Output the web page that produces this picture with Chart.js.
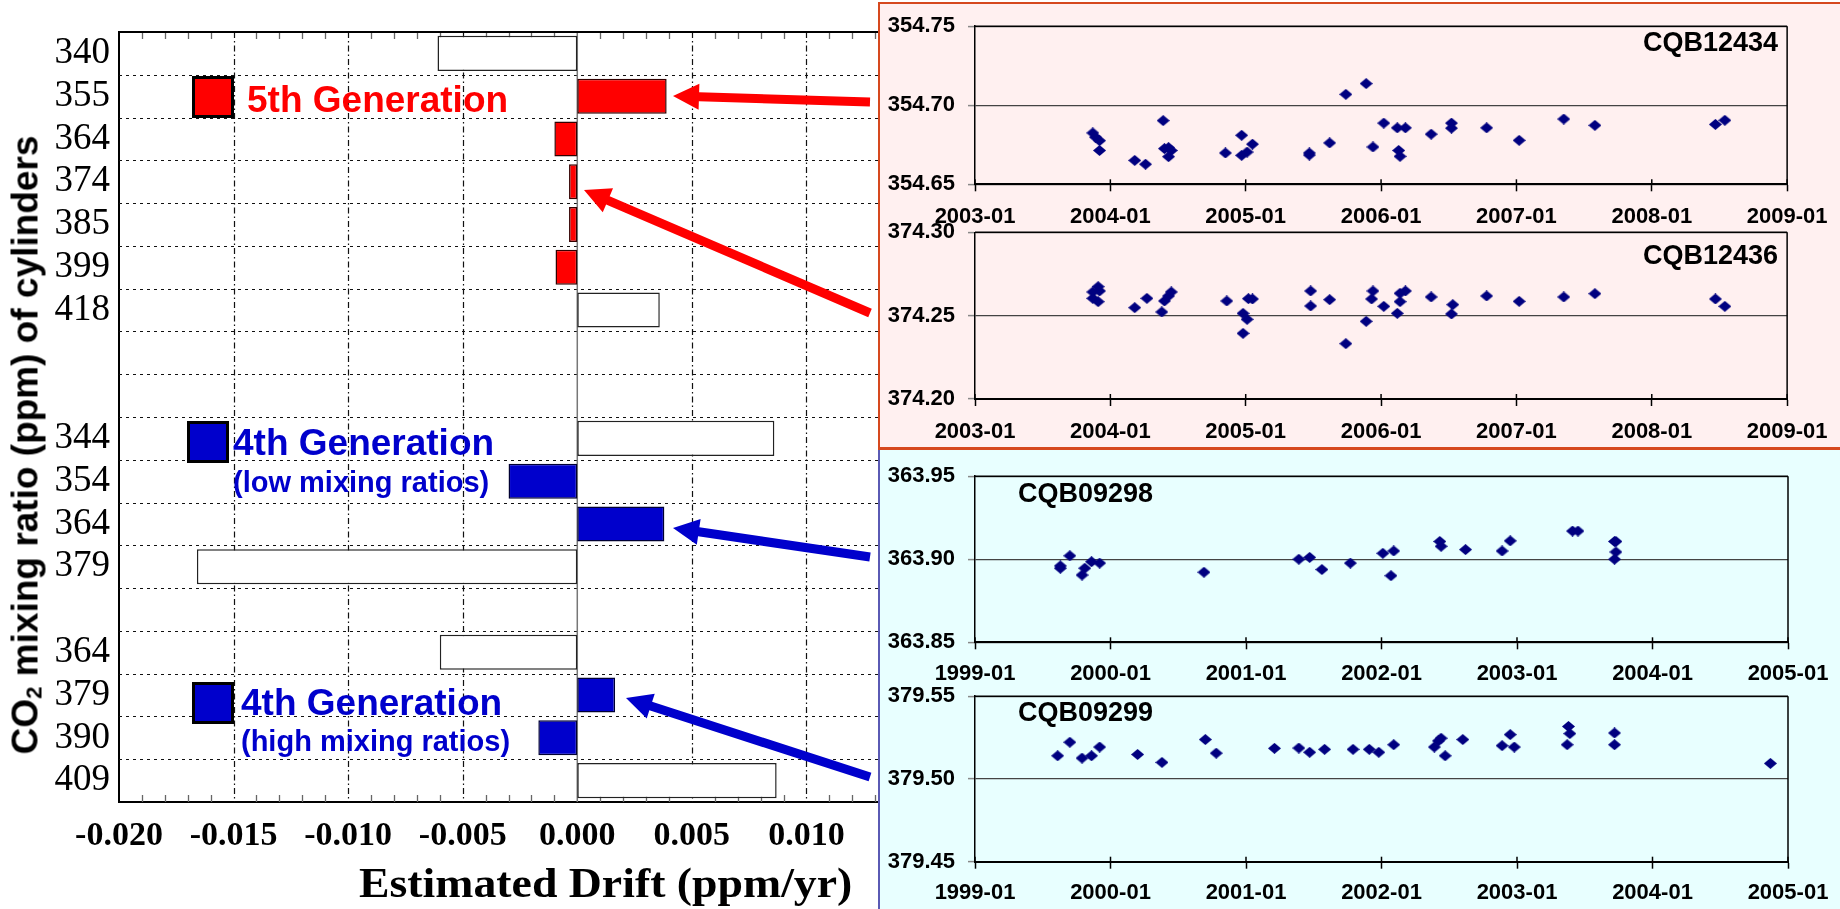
<!DOCTYPE html>
<html>
<head>
<meta charset="utf-8">
<script src="https://cdn.jsdelivr.net/npm/chart.js@4.4.1/dist/chart.umd.min.js"></script>
<style>
  html, body { margin: 0; padding: 0; background: #fff; }
  body { width: 1840px; height: 909px; position: relative; overflow: hidden; font-family: "Liberation Sans", Arial, sans-serif; }
  canvas { position: absolute; }
  .panel { position: absolute; box-sizing: border-box; }
  #panelTop { left: 878px; top: 2px; width: 980px; height: 448px; background: #fff0f0; border: 2px solid #d6481e; border-bottom-width: 3px; }
  #panelBottom { left: 878px; top: 450px; width: 980px; height: 470px; background: #e8ffff; border-left: 2px solid #5a5ab4; }
  .lbl { position: absolute; white-space: nowrap; font-weight: bold; line-height: 1; }
  .swatch { position: absolute; box-sizing: border-box; width: 42px; height: 42px; border: 3px solid #000; }
  .tag { position: absolute; white-space: nowrap; font-weight: bold; line-height: 1; font-size: 27px; color: #000; }
  #yTitle { position: absolute; left: 25px; top: 445px; white-space: nowrap; font-weight: bold; font-size: 37px; line-height: 1; transform: translate(-50%, -50%) rotate(-90deg); }
  #yTitle sub { font-size: 0.6em; vertical-align: -0.2em; line-height: 0; }
  #xTitle { position: absolute; left: 359px; top: 862px; white-space: nowrap; font-family: "Liberation Serif", "Times New Roman", serif; font-weight: bold; font-size: 42px; line-height: 1; transform: scaleX(1.09); transform-origin: left top; }
  svg { position: absolute; left: 0; top: 0; }
</style>
</head>
<body>
<canvas id="driftChart" width="1000" height="909" style="left:0;top:0"></canvas>
<div class="panel" id="panelTop"></div>
<div class="panel" id="panelBottom"></div>
<canvas id="chartCQB12434" width="960" height="240" style="left:880px;top:0"></canvas>
<canvas id="chartCQB12436" width="960" height="250" style="left:880px;top:200px"></canvas>
<canvas id="chartCQB09298" width="960" height="240" style="left:880px;top:450px"></canvas>
<canvas id="chartCQB09299" width="960" height="239" style="left:880px;top:670px"></canvas>

<div class="swatch" style="left:192px;top:76px;background:#ff0000"></div>
<div class="lbl" style="left:247px;top:81px;font-size:37px;color:#ff0000">5th Generation</div>
<div class="swatch" style="left:187px;top:421px;background:#0000cc"></div>
<div class="lbl" style="left:233px;top:424px;font-size:37px;color:#0000cc">4th Generation</div>
<div class="lbl" style="left:233px;top:468px;font-size:29px;color:#0000cc">(low mixing ratios)</div>
<div class="swatch" style="left:192px;top:682px;background:#0000cc"></div>
<div class="lbl" style="left:241px;top:684px;font-size:37px;color:#0000cc">4th Generation</div>
<div class="lbl" style="left:241px;top:727px;font-size:29px;color:#0000cc">(high mixing ratios)</div>

<div id="yTitle">CO<sub>2</sub> mixing ratio (ppm) of cylinders</div>
<div id="xTitle">Estimated Drift (ppm/yr)</div>

<div class="tag" style="right:62px;top:29px">CQB12434</div>
<div class="tag" style="right:62px;top:242px">CQB12436</div>
<div class="tag" style="left:1018px;top:480px">CQB09298</div>
<div class="tag" style="left:1018px;top:699px">CQB09299</div>

<svg id="arrows" width="1840" height="909"></svg>

<script>
// ---- left panel: estimated drift per cylinder ----
const cylinderLabels = ['340', '355', '364', '374', '385', '399', '418', '', '', '344', '354', '364', '379', '', '364', '379', '390', '409'];
const estimatedDrift = [-0.0061, 0.0039, -0.0010, -0.00036, -0.00036, -0.00095, 0.0036, null, null, 0.0086, -0.0030, 0.0038, -0.0166, null, -0.0060, 0.00165, -0.0017, 0.0087];
const cylinderGeneration = ['', '5th', '5th', '5th', '5th', '5th', '', '', '', '', '4th', '4th', '', '', '', '4th', '4th', ''];
const driftTicks = [-0.020, -0.015, -0.010, -0.005, 0.000, 0.005, 0.010, 0.015];

// ---- right panels: repeated measurements ----
const yearTicks0309 = [2003, 2004, 2005, 2006, 2007, 2008, 2009];
const yearTicks9905 = [1999, 2000, 2001, 2002, 2003, 2004, 2005];

const cqb12434Ticks = [354.65, 354.70, 354.75];
const cqb12434Dates = [2003.87, 2003.89, 2003.92, 2003.92, 2004.18, 2004.26, 2004.39, 2004.40, 2004.43, 2004.45, 2004.43, 2004.85, 2004.97, 2004.97, 2005.01, 2005.05, 2005.47, 2005.47, 2005.62, 2005.74, 2005.89, 2005.94, 2006.02, 2006.12, 2006.13, 2006.14, 2006.18, 2006.37, 2006.52, 2006.52, 2006.78, 2007.02, 2007.35, 2007.58, 2008.47, 2008.54];
const cqb12434Values = [354.6825, 354.6798, 354.6776, 354.6714, 354.6651, 354.6627, 354.6903, 354.6726, 354.6732, 354.6714, 354.6675, 354.6698, 354.6810, 354.6683, 354.6704, 354.6754, 354.6698, 354.6685, 354.6762, 354.7069, 354.7137, 354.6736, 354.6887, 354.6857, 354.6714, 354.6677, 354.6857, 354.6817, 354.6887, 354.6855, 354.6857, 354.6778, 354.6913, 354.6873, 354.6879, 354.6905];

const cqb12436Ticks = [374.20, 374.25, 374.30];
const cqb12436Dates = [2003.87, 2003.87, 2003.91, 2003.92, 2003.91, 2004.18, 2004.27, 2004.38, 2004.40, 2004.43, 2004.45, 2004.86, 2004.98, 2005.01, 2004.98, 2005.02, 2005.05, 2005.48, 2005.48, 2005.62, 2005.74, 2005.89, 2005.93, 2005.94, 2006.02, 2006.12, 2006.14, 2006.14, 2006.18, 2006.37, 2006.53, 2006.52, 2006.78, 2007.02, 2007.35, 2007.58, 2008.47, 2008.54];
const cqb12436Values = [374.2642, 374.2604, 374.2674, 374.2648, 374.2584, 374.2548, 374.2604, 374.2522, 374.2588, 374.2618, 374.2642, 374.2588, 374.2514, 374.2478, 374.2394, 374.2602, 374.2600, 374.2648, 374.2558, 374.2596, 374.2332, 374.2466, 374.2600, 374.2648, 374.2556, 374.2514, 374.2584, 374.2634, 374.2648, 374.2612, 374.2566, 374.2510, 374.2618, 374.2586, 374.2612, 374.2632, 374.2600, 374.2556];

const cqb09298Ticks = [363.85, 363.90, 363.95];
const cqb09298Dates = [1999.63, 1999.63, 1999.70, 1999.79, 1999.81, 1999.86, 1999.92, 2000.69, 2001.39, 2001.47, 2001.56, 2001.77, 2002.01, 2002.09, 2002.07, 2002.43, 2002.44, 2002.62, 2002.89, 2002.95, 2003.41, 2003.45, 2003.72, 2003.73, 2003.73, 2003.72];
const cqb09298Values = [363.8960, 363.8946, 363.9021, 363.8905, 363.8946, 363.8985, 363.8977, 363.8922, 363.9000, 363.9011, 363.8938, 363.8977, 363.9036, 363.9050, 363.8901, 363.9107, 363.9078, 363.9058, 363.9050, 363.9111, 363.9170, 363.9170, 363.9107, 363.9107, 363.9044, 363.9000];

const cqb09299Ticks = [379.45, 379.50, 379.55];
const cqb09299Dates = [1999.61, 1999.70, 1999.79, 1999.86, 1999.92, 2000.20, 2000.38, 2000.70, 2000.78, 2001.21, 2001.39, 2001.47, 2001.58, 2001.79, 2001.91, 2001.98, 2002.09, 2002.39, 2002.42, 2002.44, 2002.47, 2002.60, 2002.89, 2002.95, 2002.98, 2003.38, 2003.39, 2003.37, 2003.72, 2003.72, 2004.87];
const cqb09299Values = [379.5140, 379.5222, 379.5126, 379.5140, 379.5193, 379.5148, 379.5100, 379.5238, 379.5156, 379.5185, 379.5187, 379.5161, 379.5179, 379.5179, 379.5179, 379.5161, 379.5207, 379.5193, 379.5230, 379.5246, 379.5140, 379.5238, 379.5201, 379.5268, 379.5193, 379.5317, 379.5274, 379.5207, 379.5278, 379.5207, 379.5094];

const RED = '#ff0000';
const BLUE = '#0000cc';
const NAVY = '#000080';

function line(ctx, x1, y1, x2, y2) {
    ctx.beginPath();
    ctx.moveTo(x1, y1);
    ctx.lineTo(x2, y2);
    ctx.stroke();
}

// dashed row separators, dash-dot verticals, minor ticks and top frame
const driftGrid = {
    id: 'driftGrid',
    beforeDatasetsDraw(chart) {
        const {ctx, chartArea: a, scales: {x, y}} = chart;
        ctx.save();
        ctx.strokeStyle = '#111';
        ctx.lineWidth = 1.2;
        ctx.setLineDash([3, 4]);
        for (let i = 0; i < cylinderLabels.length - 1; i++) {
            const py = Math.round((y.getPixelForValue(i) + y.getPixelForValue(i + 1)) / 2) + 0.5;
            line(ctx, a.left, py, a.right, py);
        }
        ctx.setLineDash([6, 3, 1.5, 3]);
        driftTicks.forEach((v, i) => {
            if (i === 0 || v === 0) return;
            const px = Math.round(x.getPixelForValue(v)) + 0.5;
            line(ctx, px, a.top, px, a.bottom);
        });
        ctx.setLineDash([]);
        ctx.strokeStyle = '#777';
        ctx.lineWidth = 1.5;
        const zx = x.getPixelForValue(0);
        line(ctx, zx, a.top, zx, a.bottom);
        // minor ticks every 0.001
        ctx.strokeStyle = '#666';
        ctx.lineWidth = 1.3;
        for (let k = -20; k <= 15; k++) {
            if (k % 5 === 0) continue;
            const px = Math.round(x.getPixelForValue(k / 1000)) + 0.5;
            line(ctx, px, a.top, px, a.top + 7);
            line(ctx, px, a.bottom, px, a.bottom - 7);
        }
        ctx.restore();
    },
    afterDraw(chart) {
        const {ctx, chartArea: a} = chart;
        ctx.save();
        ctx.strokeStyle = '#000';
        ctx.lineWidth = 2;
        line(ctx, a.left, a.top, a.right, a.top);
        ctx.restore();
    }
};

const pickGeneration = g => estimatedDrift.map((v, i) => cylinderGeneration[i] === g ? v : null);

new Chart(document.getElementById('driftChart'), {
    type: 'bar',
    data: {
        labels: cylinderLabels,
        datasets: [
            { label: 'other', data: pickGeneration(''), backgroundColor: '#ffffff', borderColor: '#222', borderWidth: 1.5 },
            { label: '5th Generation', data: pickGeneration('5th'), backgroundColor: RED, borderColor: '#300', borderWidth: 1.5 },
            { label: '4th Generation', data: pickGeneration('4th'), backgroundColor: BLUE, borderColor: '#000033', borderWidth: 1.5 }
        ]
    },
    options: {
        indexAxis: 'y',
        responsive: false,
        animation: false,
        events: [],
        grouped: false,
        barPercentage: 0.82,
        categoryPercentage: 1,
        borderSkipped: false,
        layout: { padding: { left: 0, top: 32, right: 79, bottom: 0 } },
        plugins: { legend: { display: false }, tooltip: { enabled: false } },
        scales: {
            x: {
                type: 'linear',
                min: driftTicks[0],
                max: driftTicks[driftTicks.length - 1],
                afterBuildTicks: s => { s.ticks = driftTicks.map(v => ({ value: v })); },
                afterFit: s => { s.height = 107; },
                grid: { display: false, drawTicks: false },
                border: { display: true, color: '#000', width: 2 },
                ticks: {
                    padding: 14,
                    color: '#000',
                    autoSkip: false,
                    maxRotation: 0,
                    font: { family: 'Liberation Serif', size: 34, weight: 'bold' },
                    callback: v => v.toFixed(3)
                }
            },
            y: {
                afterFit: s => { s.width = 119; },
                grid: { display: false, drawTicks: false },
                border: { display: true, color: '#000', width: 2 },
                ticks: {
                    padding: 9,
                    color: '#000',
                    autoSkip: false,
                    font: { family: 'Liberation Serif', size: 37 }
                }
            }
        }
    },
    plugins: [driftGrid]
});

// ---- scatter panels ----
function diamondMark(w, h, color) {
    const c = document.createElement('canvas');
    c.width = w;
    c.height = h;
    const g = c.getContext('2d');
    g.fillStyle = color;
    g.beginPath();
    g.moveTo(w / 2, 0);
    g.lineTo(w, h / 2);
    g.lineTo(w / 2, h);
    g.lineTo(0, h / 2);
    g.closePath();
    g.fill();
    return c;
}
const diamond = diamondMark(13, 11, NAVY);

const panelFrame = {
    id: 'panelFrame',
    afterDraw(chart) {
        const {ctx, chartArea: a, scales: {x}} = chart;
        ctx.save();
        ctx.strokeStyle = '#000';
        ctx.lineWidth = 1.5;
        line(ctx, a.left, a.top, a.right, a.top);
        line(ctx, a.right, a.top, a.right, a.bottom);
        x.ticks.forEach(t => {
            const px = x.getPixelForValue(t.value);
            line(ctx, px, a.bottom, px, a.bottom - 5);
        });
        ctx.restore();
    }
};

function scatterPanel(id, dates, values, yTicks, years, box) {
    const tickFont = { family: 'Liberation Sans', size: 22, weight: 'bold' };
    new Chart(document.getElementById(id), {
        type: 'scatter',
        data: {
            datasets: [{
                data: dates.map((d, i) => ({ x: d, y: values[i] })),
                pointStyle: diamond,
                backgroundColor: NAVY,
                borderColor: NAVY
            }]
        },
        options: {
            responsive: false,
            animation: false,
            events: [],
            layout: { padding: { left: 0, top: box.top, right: 52, bottom: 0 } },
            plugins: { legend: { display: false }, tooltip: { enabled: false } },
            scales: {
                x: {
                    type: 'linear',
                    min: years[0],
                    max: years[years.length - 1],
                    afterBuildTicks: s => { s.ticks = years.map(v => ({ value: v })); },
                    afterFit: s => { s.height = box.axis; },
                    grid: { drawOnChartArea: false, drawTicks: true, tickLength: 7, tickColor: '#000', tickWidth: 1.5 },
                    border: { color: '#000', width: 2 },
                    ticks: { padding: box.pad, color: '#000', autoSkip: false, maxRotation: 0, font: tickFont, callback: v => v + '-01' }
                },
                y: {
                    min: yTicks[0],
                    max: yTicks[yTicks.length - 1],
                    afterBuildTicks: s => { s.ticks = yTicks.map(v => ({ value: v })); },
                    afterFit: s => { s.width = 95; },
                    grid: { color: '#444', lineWidth: 1.2, tickLength: 7, tickColor: '#888', tickWidth: 1.5 },
                    border: { color: '#000', width: 1.5 },
                    ticks: { padding: 13, color: '#000', font: tickFont, callback: v => v.toFixed(2) }
                }
            }
        },
        plugins: [panelFrame]
    });
}

scatterPanel('chartCQB12434', cqb12434Dates, cqb12434Values, cqb12434Ticks, yearTicks0309, { top: 19, axis: 55.7, pad: 12.5 });
scatterPanel('chartCQB12436', cqb12436Dates, cqb12436Values, cqb12436Ticks, yearTicks0309, { top: 32.3, axis: 51, pad: 12.5 });
scatterPanel('chartCQB09298', cqb09298Dates, cqb09298Values, cqb09298Ticks, yearTicks9905, { top: 22.5, axis: 47.7, pad: 11.5 });
scatterPanel('chartCQB09299', cqb09299Dates, cqb09299Values, cqb09299Ticks, yearTicks9905, { top: 22.3, axis: 47.3, pad: 11 });

// ---- pointer arrows from the panels to their bars ----
const arrowNotes = [
    { color: RED, from: [870, 102], to: [673, 96] },
    { color: RED, from: [870, 313], to: [584, 190] },
    { color: BLUE, from: [870, 557], to: [673, 528] },
    { color: BLUE, from: [870, 777], to: [626, 698] }
];
const svg = document.getElementById('arrows');
arrowNotes.forEach(a => {
    const [sx, sy] = a.from, [tx, ty] = a.to;
    const len = Math.hypot(tx - sx, ty - sy);
    const ux = (tx - sx) / len, uy = (ty - sy) / len;
    const nx = -uy, ny = ux;
    const head = 26, half = 13, shaft = 4.5;
    const bx = tx - ux * head, by = ty - uy * head;
    const pts = [
        [sx + nx * shaft, sy + ny * shaft],
        [bx + nx * shaft, by + ny * shaft],
        [bx + nx * half, by + ny * half],
        [tx, ty],
        [bx - nx * half, by - ny * half],
        [bx - nx * shaft, by - ny * shaft],
        [sx - nx * shaft, sy - ny * shaft]
    ];
    const p = document.createElementNS('http://www.w3.org/2000/svg', 'polygon');
    p.setAttribute('points', pts.map(q => q.join(',')).join(' '));
    p.setAttribute('fill', a.color);
    svg.appendChild(p);
});
</script>
</body>
</html>
